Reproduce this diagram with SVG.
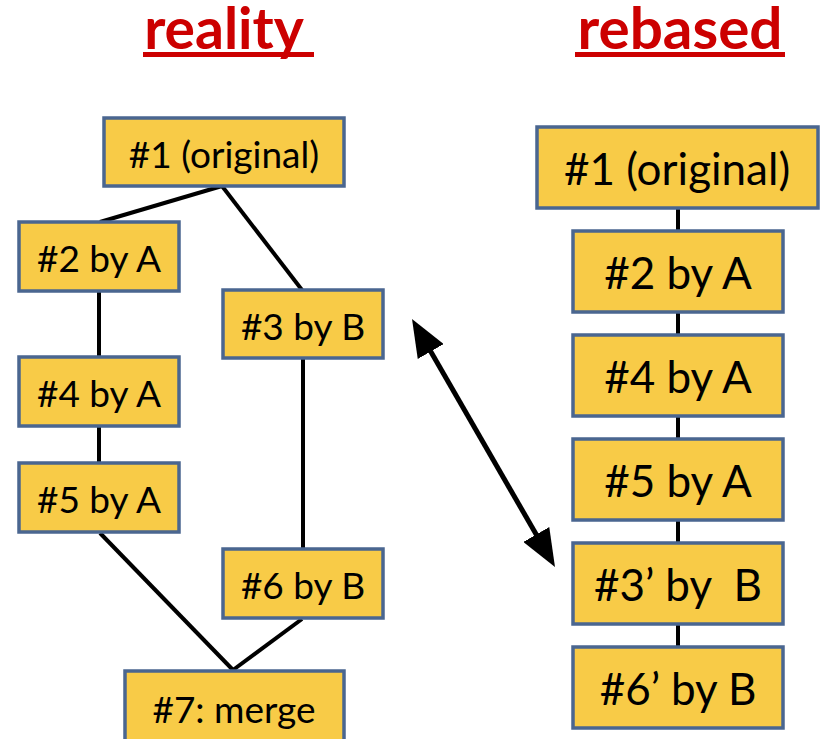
<svg xmlns="http://www.w3.org/2000/svg" width="823" height="739" viewBox="0 0 823 739">
<defs>
<style>
.title{font-family:Lato,"Liberation Sans",sans-serif;font-weight:bold;font-size:57px;fill:#CC0000;text-anchor:middle}
.ul{fill:#CC0000}
.box{fill:#F8CB47;stroke:#4A6690;stroke-width:3.5}
.t{font-family:Lato,"Liberation Sans",sans-serif;font-size:37px;fill:#000;text-anchor:middle;dominant-baseline:central}
.tr{font-size:44px}
.c{stroke:#000;stroke-width:4;fill:none}
.arr{stroke:#000;stroke-width:5;fill:none}
</style>
<marker id="ah" viewBox="0 0 10 10" refX="2" refY="5" markerWidth="7.5" markerHeight="6" preserveAspectRatio="none" orient="auto-start-reverse" markerUnits="strokeWidth">
<path d="M0,0 L10,5 L0,10 z" fill="#000"/>
</marker>
</defs>
<rect width="823" height="739" fill="#fff"/>
<g id="title-reality">
<text class="title" x="224" y="49">reality</text>
<rect class="ul" x="143" y="52" width="171" height="5"/>
</g>
<g id="title-rebased">
<text class="title" x="680" y="49" textLength="205" lengthAdjust="spacingAndGlyphs">rebased</text>
<rect class="ul" x="575" y="52" width="210" height="5"/>
</g>
<g id="connectors">
<line class="c" x1="222" y1="186" x2="100" y2="222"/>
<line class="c" x1="222" y1="186" x2="302" y2="290"/>
<line class="c" x1="99" y1="292" x2="99" y2="357"/>
<line class="c" x1="99" y1="427" x2="99" y2="463"/>
<line class="c" x1="303" y1="358" x2="303" y2="549"/>
<line class="c" x1="100" y1="533" x2="233" y2="670"/>
<line class="c" x1="302" y1="619" x2="233" y2="670"/>
<line class="c" x1="678" y1="208" x2="678" y2="647" stroke-width="4.5"/>
<line class="arr" x1="427" y1="345" x2="540" y2="541" marker-start="url(#ah)" marker-end="url(#ah)"/>
</g>
<g id="n1"><rect class="box" x="104" y="118" width="240" height="68"/><text class="t" x="224" y="153">#1 (original)</text></g>
<g id="n2"><rect class="box" x="19" y="222" width="160" height="69"/><text class="t" x="99" y="257">#2 by A</text></g>
<g id="n3"><rect class="box" x="223" y="290" width="160" height="68"/><text class="t" x="303" y="325">#3 by B</text></g>
<g id="n4"><rect class="box" x="19" y="357" width="160" height="69"/><text class="t" x="99" y="392">#4 by A</text></g>
<g id="n5"><rect class="box" x="19" y="463" width="160" height="69"/><text class="t" x="99" y="498">#5 by A</text></g>
<g id="n6"><rect class="box" x="223" y="549" width="160" height="69"/><text class="t" x="303" y="584">#6 by B</text></g>
<g id="n7"><rect class="box" x="125" y="671" width="219" height="72"/><text class="t" x="234" y="708">#7: merge</text></g>
<g id="r1"><rect class="box" x="537" y="127" width="281" height="81"/><text class="t tr" x="677" y="168">#1 (original)</text></g>
<g id="r2"><rect class="box" x="573" y="231" width="210" height="81"/><text class="t tr" x="678" y="272">#2 by A</text></g>
<g id="r4"><rect class="box" x="573" y="335" width="210" height="81"/><text class="t tr" x="678" y="376">#4 by A</text></g>
<g id="r5"><rect class="box" x="573" y="439" width="210" height="81"/><text class="t tr" x="678" y="480">#5 by A</text></g>
<g id="r3p"><rect class="box" x="573" y="543" width="210" height="81"/><text class="t tr" x="678" y="584" xml:space="preserve">#3’ by  B</text></g>
<g id="r6p"><rect class="box" x="573" y="647" width="210" height="81"/><text class="t tr" x="678" y="688">#6’ by B</text></g>
</svg>
